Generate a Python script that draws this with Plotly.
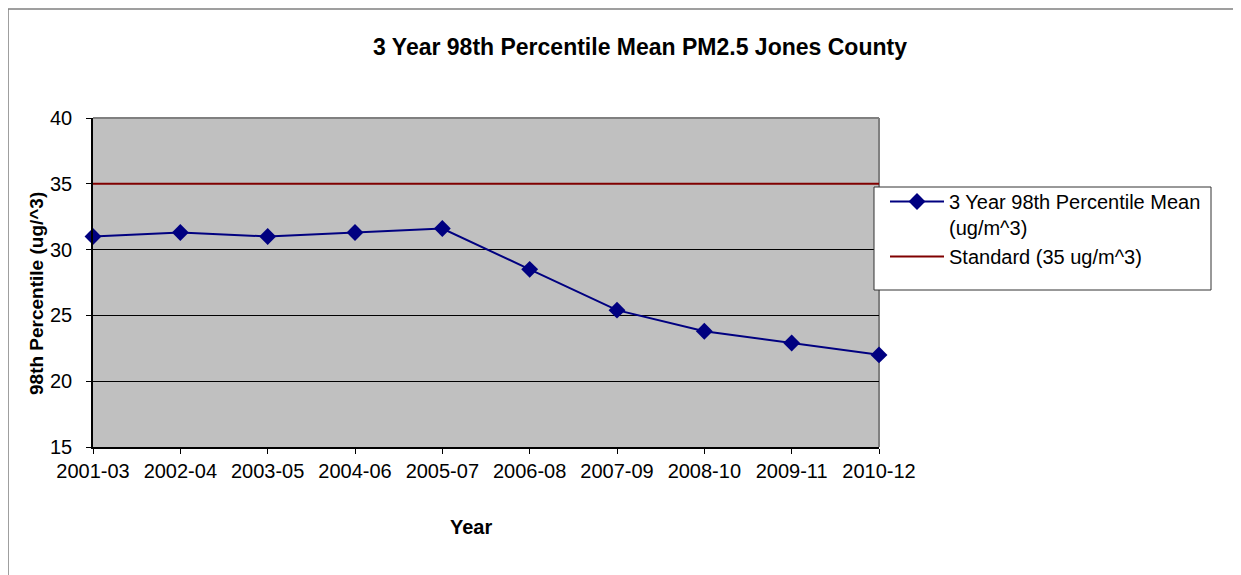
import plotly.graph_objects as go

years = ["2001-03", "2002-04", "2003-05", "2004-06", "2005-07",
         "2006-08", "2007-09", "2008-10", "2009-11", "2010-12"]
pm_mean = [31.0, 31.3, 31.0, 31.3, 31.6, 28.5, 25.4, 23.8, 22.9, 22.0]
standard = [35] * len(years)
y_ticks = [15, 20, 25, 30, 35, 40]

# page offset (browser body margin)
OFF = 8
W, H = 1241 - OFF, 575 - OFF
# plot area in reference pixel coordinates
L, R, T, B = 93, 879, 118, 447
pw, ph = R - L, B - T

def px_x(p):
    return (p - L) / pw

def px_y(p):
    return (B - p) / ph

xi = list(range(len(years)))
FONT = "Liberation Sans, Arial, sans-serif"
FS = 20

fig = go.Figure()
fig.add_trace(go.Scatter(
    x=xi, y=pm_mean, mode="lines+markers",
    name="3 Year 98th Percentile Mean<br>(ug/m^3)",
    line=dict(color="#000080", width=2),
    marker=dict(symbol="diamond", size=13, color="#000080"),
    cliponaxis=False,
))
fig.add_trace(go.Scatter(
    x=xi, y=standard, mode="lines",
    name="Standard (35 ug/m^3)",
    line=dict(color="#800000", width=2),
))

shapes = [
    # outer chart frame
    dict(type="rect", xref="paper", yref="paper",
         x0=px_x(8), x1=px_x(1300), y0=px_y(640), y1=px_y(9),
         line=dict(color="#808080", width=1.5), fillcolor="rgba(0,0,0,0)", layer="below"),
    # plot area top/right border (gray)
    dict(type="line", xref="paper", yref="paper", x0=0, x1=1, y0=1, y1=1,
         line=dict(color="#808080", width=2), layer="below"),
    dict(type="line", xref="paper", yref="paper", x0=1, x1=1, y0=0, y1=1,
         line=dict(color="#808080", width=2), layer="below"),
    # legend box
    dict(type="rect", xref="paper", yref="paper",
         x0=px_x(874), x1=px_x(1211), y0=px_y(290), y1=px_y(187),
         line=dict(color="#333333", width=1), fillcolor="white", layer="above"),
]

fig.update_layout(
    width=W, height=H,
    margin=dict(l=L - OFF, r=W - (R - OFF), t=T - OFF, b=H - (B - OFF), pad=0),
    paper_bgcolor="white",
    plot_bgcolor="#C0C0C0",
    font=dict(family=FONT, size=FS, color="black"),
    title=dict(text="<b>3 Year 98th Percentile Mean PM2.5 Jones County</b>",
               x=(640 - OFF) / W, xanchor="center", xref="container",
               y=1 - (47 - OFF) / H, yanchor="middle", yref="container",
               font=dict(size=23, family=FONT, color="black")),
    xaxis=dict(
        range=[0, len(years) - 1], tickvals=xi, ticktext=years,
        showgrid=False, zeroline=False,
        showline=True, linecolor="black", linewidth=1.5,
        ticks="outside", ticklen=5, tickcolor="black",
        tickfont=dict(size=FS), fixedrange=True,
    ),
    yaxis=dict(
        range=[15, 40], tickvals=y_ticks,
        showgrid=True, gridcolor="black", gridwidth=1,
        zeroline=False,
        showline=True, linecolor="black", linewidth=1.5,
        ticks="outside", ticklen=5, tickcolor="black",
        ticklabelstandoff=10,
        tickfont=dict(size=FS), fixedrange=True,
    ),
    showlegend=True,
    legend=dict(
        x=px_x(885), y=px_y(182), xanchor="left", yanchor="top",
        xref="paper", yref="paper",
        bgcolor="rgba(0,0,0,0)", borderwidth=0,
        font=dict(size=FS, family=FONT), valign="top",
        itemwidth=54, tracegroupgap=0,
    ),
    annotations=[
        dict(text="<b>Year</b>", xref="paper", yref="paper",
             x=px_x(471), y=px_y(527), xanchor="center", yanchor="middle",
             showarrow=False, font=dict(size=FS, family=FONT)),
        dict(text="<b>98th Percentile (ug/^3)</b>", xref="paper", yref="paper",
             x=px_x(36), y=px_y(294), xanchor="center", yanchor="middle",
             textangle=-90, showarrow=False, font=dict(size=19, family=FONT)),
    ],
    shapes=shapes,
)

fig.write_html("out.html")
